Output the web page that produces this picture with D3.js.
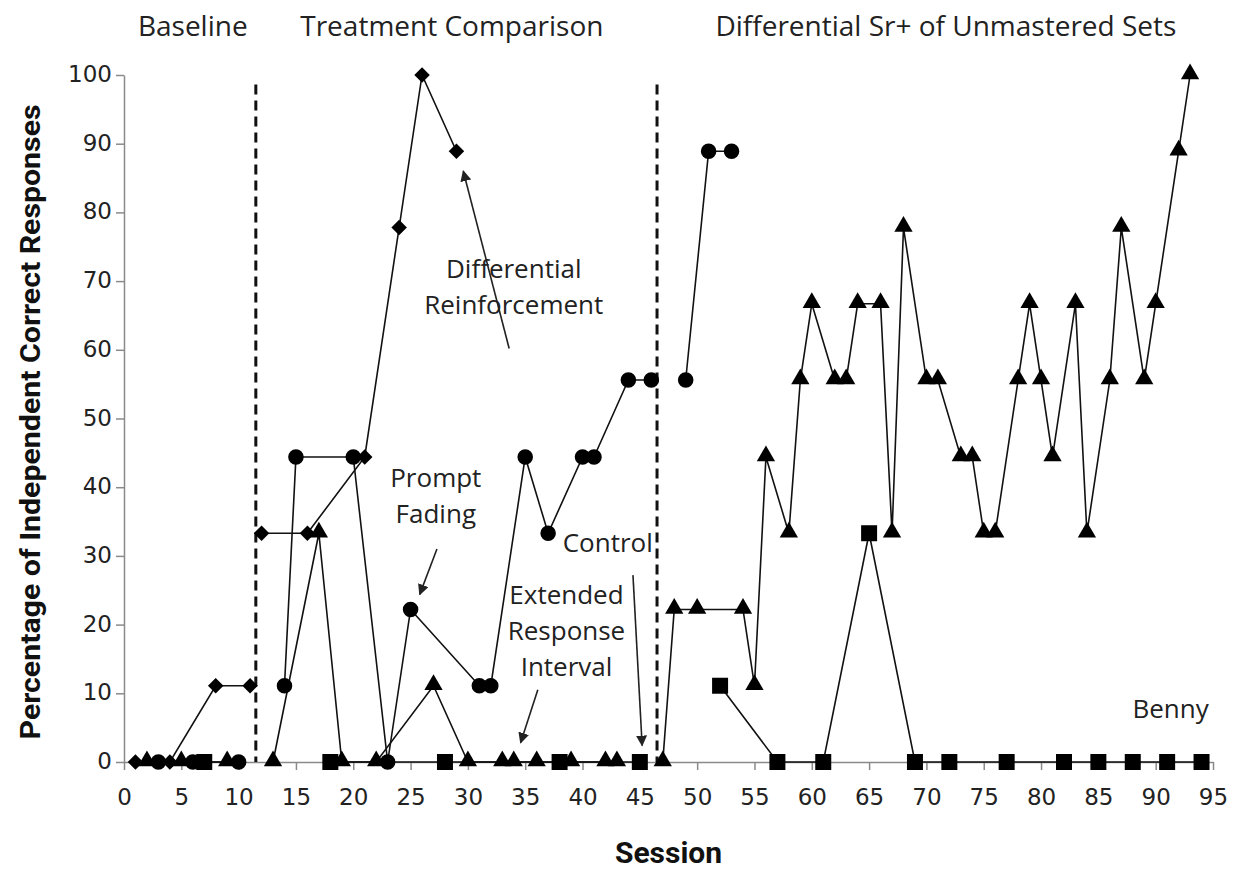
<!DOCTYPE html>
<meta charset="utf-8">
<script src="https://d3js.org/d3.v7.min.js"></script>
<style>
body { margin: 0; background: #fff; }
.tick text { font-family: 'DejaVu Sans', sans-serif; font-size: 23px; fill: #222; }
.tick line, .domain { stroke: #8a8a8a; stroke-width: 1.5; }
.note { font-family: 'Open Sans', sans-serif; font-size: 26px; fill: #222; }
.title { font-family: 'Liberation Sans Narrow', 'Roboto', sans-serif; font-weight: bold; font-size: 28px; fill: #111; }
.series { fill: none; stroke: #111; stroke-width: 1.6; }
</style>
<div id="chart"></div>
<script>

// sessions and percentages
var drSessions = [1, 4, 8, 11, 12, 16, 21, 24, 26, 29];
var drValues   = [0, 0, 11.1, 11.1, 33.3, 33.3, 44.4, 77.8, 100, 88.9];

var pfSessions = [3, 6, 10, 14, 15, 20, 23, 25, 31, 32, 35, 37, 40, 41, 44, 46, 49, 51, 53];
var pfValues   = [0, 0, 0, 11.1, 44.4, 44.4, 0, 22.2, 11.1, 11.1, 44.4, 33.3, 44.4, 44.4, 55.6, 55.6, 55.6, 88.9, 88.9];

var eriSessions = [2, 5, 9, 13, 17, 19, 22, 27, 30, 33, 34, 36, 39, 42, 43,
  47, 48, 50, 54, 55, 56, 58, 59, 60, 62, 63, 64, 66, 67, 68, 70, 71, 73, 74, 75, 76,
  78, 79, 80, 81, 83, 84, 86, 87, 89, 90, 92, 93];
var eriValues = [0, 0, 0, 0, 33.3, 0, 0, 11.1, 0, 0, 0, 0, 0, 0, 0,
  0, 22.2, 22.2, 22.2, 11.1, 44.4, 33.3, 55.6, 66.7, 55.6, 55.6, 66.7, 66.7, 33.3, 77.8, 55.6, 55.6, 44.4, 44.4, 33.3, 33.3,
  55.6, 66.7, 55.6, 44.4, 66.7, 33.3, 55.6, 77.8, 55.6, 66.7, 88.9, 100];

var ctlSessions = [7, 18, 28, 38, 45, 52, 57, 61, 65, 69, 72, 77, 82, 85, 88, 91, 94];
var ctlValues   = [0, 0, 0, 0, 0, 11.1, 0, 0, 33.3, 0, 0, 0, 0, 0, 0, 0, 0];

var phaseLines = [11.5, 46.5];
var phaseNames = ["Baseline", "Treatment Comparison", "Differential Sr+ of Unmastered Sets"];
var phaseLabelAt = [6, 28.6, 71.7];
var xTicks = d3.range(0, 96, 5);
var yTicks = d3.range(0, 101, 10);

var width = 1241, height = 869;

var svg = d3.select("#chart").append("svg")
    .attr("width", width)
    .attr("height", height);

var x = d3.scaleLinear().domain([0, 95]).range([124, 1213]);
var y = d3.scaleLinear().domain([0, 100]).range([762, 75]);

// axes
var xAxis = svg.append("g")
    .attr("transform", "translate(0," + y(0) + ")")
    .call(d3.axisBottom(x).tickValues(xTicks).tickSize(8).tickSizeOuter(0));
var yAxis = svg.append("g")
    .attr("transform", "translate(" + x(0) + ",0)")
    .call(d3.axisLeft(y).tickValues(yTicks).tickSize(8).tickSizeOuter(0));

xAxis.selectAll(".tick text").attr("dy", null).attr("dominant-baseline", "middle").attr("y", 36);
yAxis.selectAll(".tick text").attr("dy", null).attr("dominant-baseline", "middle").attr("x", -12);

// phase change lines
svg.selectAll(".phase")
    .data(phaseLines)
    .enter().append("line")
    .attr("x1", function(d) { return x(d); })
    .attr("x2", function(d) { return x(d); })
    .attr("y1", y(98.6))
    .attr("y2", y(0))
    .attr("stroke", "#111")
    .attr("stroke-width", 3)
    .attr("stroke-dasharray", "10,6");

svg.selectAll(".phaseName")
    .data(phaseNames)
    .enter().append("text")
    .attr("class", "note")
    .attr("x", function(d, i) { return x(phaseLabelAt[i]); })
    .attr("y", 36)
    .attr("text-anchor", "middle")
    .style("font-size", "28px")
    .text(function(d) { return d; });

// split a series into one run per phase
function runs(sessions, values) {
  var out = [[], [], []];
  sessions.forEach(function(s, i) {
    var p = s < phaseLines[0] ? 0 : (s < phaseLines[1] ? 1 : 2);
    out[p].push([s, values[i]]);
  });
  return out.filter(function(r) { return r.length > 1; });
}

var line = d3.line().x(function(d) { return x(d[0]); }).y(function(d) { return y(d[1]); });

var series = [
  {s: ctlSessions, v: ctlValues, sym: d3.symbolSquare, size: 256, rot: 0},
  {s: eriSessions, v: eriValues, sym: d3.symbolTriangle, size: 145, rot: 0},
  {s: pfSessions, v: pfValues, sym: d3.symbolCircle, size: 190, rot: 0},
  {s: drSessions, v: drValues, sym: d3.symbolSquare, size: 120, rot: 45}
];

series.forEach(function(ser) {
  svg.append("g").selectAll("path")
    .data(runs(ser.s, ser.v))
    .enter().append("path")
    .attr("class", "series")
    .attr("d", line);
});

series.forEach(function(ser) {
  svg.append("g").selectAll("path")
    .data(ser.s.map(function(s, i) { return [s, ser.v[i]]; }))
    .enter().append("path")
    .attr("d", d3.symbol().type(ser.sym).size(ser.size))
    .attr("fill", "#000")
    .attr("transform", function(d) {
      var dy = ser.sym === d3.symbolTriangle ? -1 : 0;
      return "translate(" + x(d[0]) + "," + (y(d[1]) + dy) + ") rotate(" + ser.rot + ")";
    });
});

// annotations
var defs = svg.append("defs");
defs.append("marker")
    .attr("id", "head")
    .attr("viewBox", "0 0 10 10")
    .attr("refX", 9).attr("refY", 5)
    .attr("markerWidth", 11).attr("markerHeight", 11)
    .attr("markerUnits", "userSpaceOnUse")
    .attr("orient", "auto")
  .append("path")
    .attr("d", "M0,0 L10,5 L0,10 Z")
    .attr("fill", "#222");

var notes = [
  {lines: ["Differential", "Reinforcement"], at: [34.0, 70.5], from: [33.6, 60.2], to: [29.6, 86]},
  {lines: ["Prompt", "Fading"], at: [27.2, 40], from: [27.3, 31], to: [25.8, 24.4]},
  {lines: ["Control"], at: [42.2, 30.5], from: [44.4, 27.2], to: [45.2, 2.4]},
  {lines: ["Extended", "Response", "Interval"], at: [38.6, 23], from: [36.1, 10.5], to: [34.6, 2.8]},
  {lines: ["Benny"], at: [91.3, 6.4]}
];

notes.forEach(function(n) {
  var t = svg.append("text")
    .attr("class", "note")
    .attr("text-anchor", "middle")
    .attr("x", x(n.at[0]))
    .attr("y", y(n.at[1]));
  n.lines.forEach(function(l, i) {
    t.append("tspan").attr("x", x(n.at[0])).attr("dy", i == 0 ? 0 : 36).text(l);
  });
  if (n.from) {
    svg.append("line")
      .attr("x1", x(n.from[0])).attr("y1", y(n.from[1]))
      .attr("x2", x(n.to[0])).attr("y2", y(n.to[1]))
      .attr("stroke", "#222").attr("stroke-width", 1.6)
      .attr("marker-end", "url(#head)");
  }
});

// axis titles
svg.append("text")
    .attr("class", "title")
    .attr("x", x(47.5)).attr("y", 863)
    .attr("text-anchor", "middle")
    .style("font-size", "30px")
    .text("Session");

svg.append("text")
    .attr("class", "title")
    .attr("transform", "translate(40," + y(49.5) + ") rotate(-90)")
    .attr("text-anchor", "middle")
    .attr("textLength", 635)
    .attr("lengthAdjust", "spacingAndGlyphs")
    .text("Percentage of Independent Correct Responses");

</script>
